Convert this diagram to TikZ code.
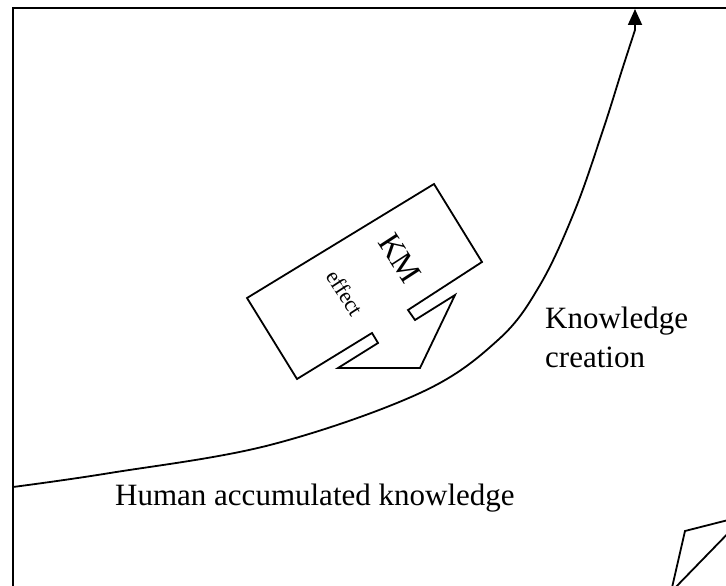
\documentclass[tikz,border=0pt]{standalone}
\usepackage{fontspec}
\setmainfont{Liberation Serif}
\usetikzlibrary{arrows.meta}
\tikzset{
  ink/.style={line width=1.8pt, line join=miter},
  lbl/.style={inner sep=0pt, anchor=base west},
  bigtext/.style={font=\fontsize{31}{37}\selectfont},
}
\begin{document}
\begin{tikzpicture}[x=1pt,y=-1pt]
\useasboundingbox (0,0) rectangle (726,586);
\begin{scope}
\clip (0,0) rectangle (726,586);
% outer frame, running off the right and bottom edges
\draw[ink] (13,8) rectangle (760,620);
% corner of a shape cut off at the lower right
\coordinate (p1) at (671,592);
\coordinate (p2) at (685,531);
\coordinate (p3) at (740,517);
\coordinate (p4) at (740,521);
\draw[ink] (p1) -- (p2) -- (p3);
\draw[ink] (p1) -- (p4);
\end{scope}

% growth curve of accumulated knowledge
\coordinate (ctop) at (635,30);
\coordinate (tip) at (635,9);
\draw[ink] plot[smooth, tension=0.6] coordinates {(13,487) (110,473) (270,445) (420,393) (498,340) (540,285) (575,210) (603,130) (622,70) (635,30)};
\draw[ink, -{Triangle[length=16pt,width=14pt]}] (ctop) -- (tip);

% KM effect block with its bent arrow
\draw[ink] (297,379) -- (372,333) -- (378,343) -- (338,368) -- (420,368)
  -- (455,295) -- (415,320) -- (408,310) -- (482,262) -- (434,184)
  -- (247,298) -- cycle;
\node[inner sep=0pt, rotate=-57, font=\fontsize{32}{36}\selectfont] (km) at (400,258) {KM};
\node[inner sep=0pt, rotate=-57, font=\fontsize{22}{26}\selectfont] (eff) at (345,293) {effect};

% labels
\node[lbl, bigtext] (kc1) at (545,328) {Knowledge};
\node[lbl, bigtext] (kc2) at (545,367) {creation};
\node[lbl, bigtext] (hak) at (115,505) {Human accumulated knowledge};
\end{tikzpicture}
\end{document}
